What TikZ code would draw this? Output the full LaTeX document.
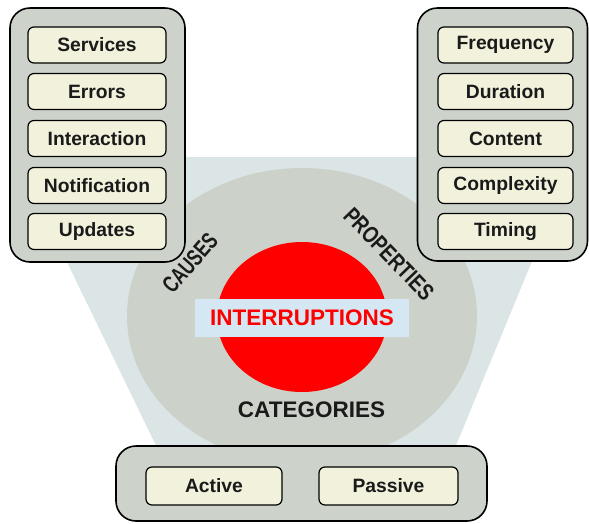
\documentclass[tikz,border=0pt]{standalone}
\usepackage{fontspec}
\setmainfont{Liberation Sans}
\newfontfamily\narrowA[FakeStretch=0.72]{Liberation Sans}
\newfontfamily\narrowB[FakeStretch=0.78]{Liberation Sans}
\usetikzlibrary{shapes.geometric}
\definecolor{trap}{HTML}{DBE5E5}
\definecolor{panelfill}{HTML}{CDD3CB}
\definecolor{ellfill}{HTML}{CCD2CA}
\definecolor{itemfill}{HTML}{F2F2DC}
\definecolor{labfill}{HTML}{D5E7F3}
\definecolor{txt}{HTML}{1A1A1A}
\tikzset{
  panel/.style={draw=black, line width=1.6pt, fill=panelfill, rounded corners=20pt, inner sep=0pt},
  item/.style={draw=black, line width=1.2pt, fill=itemfill, rounded corners=6pt, inner sep=0pt,
    minimum height=36pt, font=\fontsize{19.3}{21}\selectfont\bfseries, text=txt},
  litem/.style={item, minimum width=138pt},
  ritem/.style={item, minimum width=135pt},
  big/.style={font=\fontsize{22.5}{24}\selectfont\bfseries},
  side/.style={text=txt, inner sep=0pt}
}
\begin{document}
\begin{tikzpicture}[x=1pt,y=-1pt]
\useasboundingbox (0,0) rectangle (589,523);
% background trapezoid
\fill[trap] (16,157) -- (575,157) -- (450,460) -- (163,460) -- cycle;
% gray ellipse
\node[ellipse, fill=ellfill, minimum width=350pt, minimum height=296pt, inner sep=0pt] (outer) at (302,316) {};
% red ellipse
\node[ellipse, fill=red, minimum width=170pt, minimum height=150pt, inner sep=0pt] (core) at (302,317) {};
% interruptions label
\node[fill=labfill, minimum width=214pt, minimum height=38pt, inner sep=0pt, big, text=red] (intr) at (302,318) {INTERRUPTIONS};
\node[big, text=txt, inner sep=0pt] (cat) at (311.5,410) {CATEGORIES};
\node[side, rotate=49, font=\narrowA\fontsize{23.5}{25}\selectfont\bfseries] (causes) at (190,263) {CAUSES};
\node[side, rotate=-46, font=\narrowB\fontsize{23.5}{25}\selectfont\bfseries] (props) at (389,254) {PROPERTIES};
% left panel
\node[panel, minimum width=175pt, minimum height=254pt] (lp) at (97.5,135) {};
\node[litem] (s1) at (97,45) {Services};
\node[litem] (s2) at (97,91.5) {Errors};
\node[litem] (s3) at (97,138.5) {Interaction};
\node[litem] (s4) at (97,185.5) {Notification};
\node[litem] (s5) at (97,231.5) {Updates};
% right panel
\node[panel, minimum width=170pt, minimum height=253pt] (rp) at (502.5,134.5) {};
\node[ritem] (p1) at (505.5,45) {Frequency};
\node[ritem] (p2) at (505.5,91.5) {Duration};
\node[ritem] (p3) at (505.5,138.5) {Content};
\node[ritem] (p4) at (505.5,185.5) {Complexity};
\node[ritem] (p5) at (505.5,231.5) {Timing};
% bottom panel
\node[panel, minimum width=371pt, minimum height=75pt] (bp) at (301.5,483.5) {};
\node[item, minimum width=136pt, minimum height=38pt] (c1) at (214,486) {Active};
\node[item, minimum width=139pt, minimum height=38pt] (c2) at (388.5,486) {Passive};
\end{tikzpicture}
\end{document}
